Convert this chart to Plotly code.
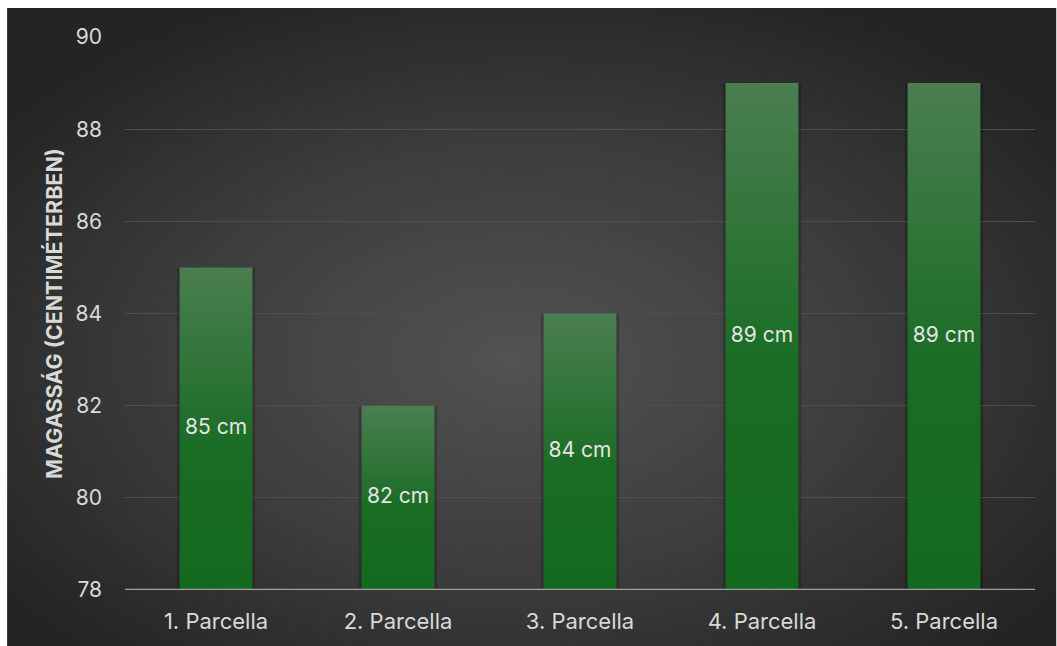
import base64
import plotly.graph_objects as go

categories = ["1. Parcella", "2. Parcella", "3. Parcella", "4. Parcella", "5. Parcella"]
heights_cm = [85, 82, 84, 89, 89]
y_ticks = [78, 80, 82, 84, 86, 88, 90]

Y_MIN, Y_MAX = 78, 90
BAR_HALF = 0.2
TEXT = "#d9d9d9"
FONT = "Inter, Roboto, Arial, sans-serif"

# dark radial-gradient backdrop as an inline SVG
svg = """<svg xmlns='http://www.w3.org/2000/svg' width='1050' height='638' viewBox='0 0 1050 638' preserveAspectRatio='none'>
<defs><radialGradient id='g' cx='0.5' cy='0.55' r='0.62' fx='0.48' fy='0.55'>
<stop offset='0' stop-color='#525252'/><stop offset='0.55' stop-color='#3c3c3c'/><stop offset='1' stop-color='#242424'/>
</radialGradient></defs><rect width='1050' height='638' fill='url(#g)'/></svg>"""
bg_src = "data:image/svg+xml;base64," + base64.b64encode(svg.encode()).decode()

fig = go.Figure()

# soft shadow behind each bar
fig.add_trace(go.Bar(
    x=list(range(len(categories))), y=[h - Y_MIN for h in heights_cm], base=Y_MIN,
    width=BAR_HALF * 2 + 0.03, marker=dict(color="rgba(0,0,0,0.2)", line=dict(width=0)),
    hoverinfo="skip", showlegend=False,
))

# gradient-filled bars, one polygon per category
for i, h in enumerate(heights_cm):
    fig.add_trace(go.Scatter(
        x=[i - BAR_HALF, i + BAR_HALF, i + BAR_HALF, i - BAR_HALF, i - BAR_HALF],
        y=[Y_MIN, Y_MIN, h, h, Y_MIN],
        mode="lines", line=dict(width=0), fill="toself",
        fillgradient=dict(type="vertical",
                          colorscale=[[0, "#136a1e"], [0.45, "#1a6d24"], [1, "#4b7e51"]]),
        hoverinfo="skip", showlegend=False,
    ))

# value labels in the middle of each bar
fig.add_trace(go.Scatter(
    x=list(range(len(categories))), y=[(Y_MIN + h) / 2 for h in heights_cm],
    mode="text", text=[f"{h} cm" for h in heights_cm],
    textfont=dict(family=FONT, size=21, color="#e4e4e4"),
    hoverinfo="skip", showlegend=False,
))

L, R, T, B = 125, 21.5, 37, 56
W, H = 1057, 646
pw, ph = W - L - R, H - T - B

fig.update_layout(
    width=W, height=H,
    margin=dict(l=L, r=R, t=T, b=B),
    paper_bgcolor="white", plot_bgcolor="rgba(0,0,0,0)",
    font=dict(family=FONT, color=TEXT),
    images=[dict(source=bg_src, xref="paper", yref="paper",
                 x=(7 - L) / pw, y=(H - B - 8) / ph,
                 sizex=(W - 7) / pw, sizey=(H - 8) / ph,
                 xanchor="left", yanchor="top", sizing="stretch", layer="below")],
    xaxis=dict(range=[-0.5, len(categories) - 0.5], tickmode="array",
               tickvals=list(range(len(categories))), ticktext=categories,
               showgrid=False, zeroline=False, showline=False, ticks="",
               tickfont=dict(size=22, color=TEXT), ticklabelstandoff=16,
               fixedrange=True),
    yaxis=dict(range=[Y_MIN, Y_MAX], tickmode="array", tickvals=y_ticks,
               showgrid=True, gridcolor="#4e4e4e", gridwidth=1.3,
               zeroline=False, showline=False, ticks="",
               tickfont=dict(size=21, color=TEXT), ticklabelstandoff=22,
               title=dict(text="<b>MAGASSÁG (CENTIMÉTERBEN)</b>", standoff=6,
                          font=dict(size=21.5, color=TEXT)),
               fixedrange=True),
    shapes=[dict(type="line", xref="paper", yref="y", x0=0, x1=1, y0=Y_MIN, y1=Y_MIN,
                 line=dict(color="#a0a0a0", width=2.5))],
    showlegend=False,
)

fig.write_html("out.html")
